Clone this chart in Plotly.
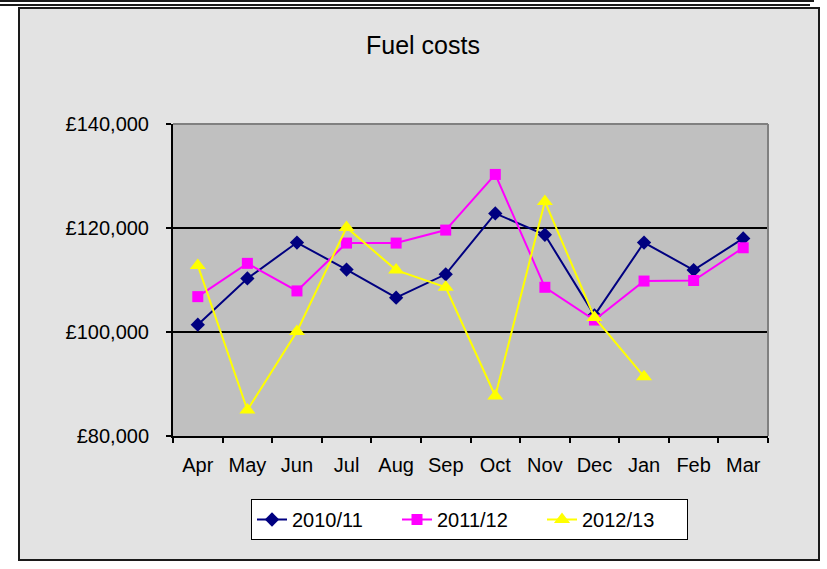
import plotly.graph_objects as go

# data
months = ["Apr", "May", "Jun", "Jul", "Aug", "Sep", "Oct", "Nov", "Dec", "Jan", "Feb", "Mar"]
costs_2010_11 = [101400, 110300, 117200, 112000, 106600, 111100, 122800, 118700, 103200, 117200, 111900, 118000]
costs_2011_12 = [106800, 113200, 107900, 117100, 117100, 119600, 130300, 108600, 102300, 109800, 109900, 116200]
costs_2012_13 = [112800, 85000, 100100, 120100, 111900, 108600, 87700, 125100, 102800, 91400, None, None]

# pixel layout of the reference
W_FIG, H_FIG = 827, 569
PL, PR, PT, PB = 173, 768, 124, 436


def px(x):
    return (x - PL) / (PR - PL)


def py(y):
    return (PB - y) / (PB - PT)


FONT = "Liberation Sans, Arial, sans-serif"

fig = go.Figure()

fig.add_trace(go.Scatter(
    x=months, y=costs_2010_11, name="2010/11", mode="lines+markers",
    line=dict(color="#000080", width=2),
    marker=dict(symbol="diamond", size=11, color="#000080"),
))
fig.add_trace(go.Scatter(
    x=months, y=costs_2011_12, name="2011/12", mode="lines+markers",
    line=dict(color="#FF00FF", width=2),
    marker=dict(symbol="square", size=11, color="#FF00FF"),
))
fig.add_trace(go.Scatter(
    x=months, y=costs_2012_13, name="2012/13", mode="lines+markers",
    line=dict(color="#FFFF00", width=2),
    marker=dict(symbol="triangle-up", size=14, color="#FFFF00"),
))

shapes = [
    # chart frame
    dict(type="rect", xref="paper", yref="paper", layer="below",
         x0=px(19), x1=px(819), y0=py(560), y1=py(8),
         fillcolor="#E3E3E3", line=dict(color="#1A1A1A", width=2)),
    # plot area fill
    dict(type="rect", xref="paper", yref="paper", layer="below",
         x0=0, x1=1, y0=0, y1=1, fillcolor="#C0C0C0", line=dict(width=0)),
    # grey top and right edge of plot area
    dict(type="line", xref="paper", yref="paper", x0=0, x1=1, y0=1, y1=1,
         line=dict(color="#808080", width=2)),
    dict(type="line", xref="paper", yref="paper", x0=1, x1=1, y0=0, y1=1,
         line=dict(color="#808080", width=2)),
    # double rule across the top of the page
    dict(type="line", xref="paper", yref="paper", x0=px(0), x1=px(814), y0=py(1), y1=py(1),
         line=dict(color="#1A1A1A", width=2)),
    dict(type="line", xref="paper", yref="paper", x0=px(0), x1=px(810), y0=py(5), y1=py(5),
         line=dict(color="#1A1A1A", width=2)),
]

fig.update_layout(
    width=W_FIG, height=H_FIG,
    margin=dict(l=PL, r=W_FIG - PR, t=PT, b=H_FIG - PB, pad=0),
    paper_bgcolor="white",
    plot_bgcolor="rgba(0,0,0,0)",
    font=dict(family=FONT, size=20, color="black"),
    shapes=shapes,
    annotations=[dict(
        text="Fuel costs", xref="paper", yref="paper", x=px(423), y=py(45),
        xanchor="center", yanchor="middle", showarrow=False,
        font=dict(family=FONT, size=25, color="black"),
    )],
    showlegend=True,
    legend=dict(
        orientation="h", x=px(251), y=py(499), xanchor="left", yanchor="top",
        bgcolor="white", bordercolor="black", borderwidth=1,
        font=dict(family=FONT, size=20, color="black"),
        entrywidth=100, entrywidthmode="pixels",
    ),
)

fig.update_xaxes(
    type="category", range=[-0.5, 11.5],
    showline=True, linecolor="black", linewidth=2,
    showgrid=False, ticks="outside", tickson="boundaries",
    ticklen=5, tickwidth=2, tickcolor="black",
    ticklabelstandoff=10,
)
fig.update_yaxes(
    range=[80000, 140000], dtick=20000, tickprefix="£", tickformat=",.0f",
    showline=True, linecolor="black", linewidth=2,
    showgrid=True, gridcolor="black", gridwidth=2, zeroline=False,
    ticks="outside", ticklen=5, tickwidth=2, tickcolor="black",
    ticklabelstandoff=13,
)

fig.write_html("out.html", config={"displayModeBar": False},
               post_script="document.body.style.margin='0';")
